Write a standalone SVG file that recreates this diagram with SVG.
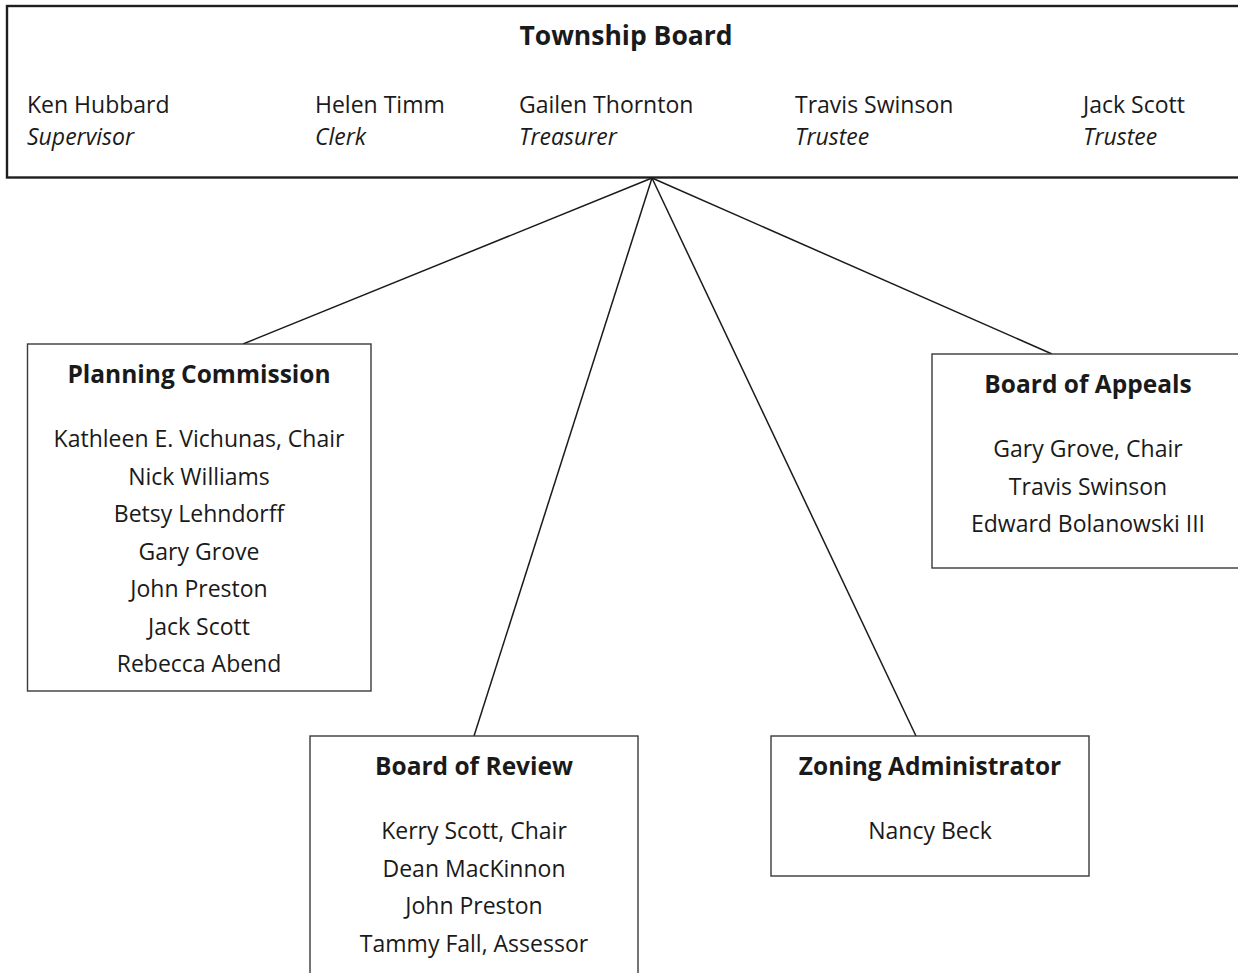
<svg xmlns="http://www.w3.org/2000/svg" width="1238" height="973" viewBox="0 0 1238 973">
<style>
  .box { fill: #ffffff; stroke: #3a3a3a; stroke-width: 1.4; }
  .top { fill: #ffffff; stroke: #1e1e1e; stroke-width: 2.4; }
  text { font-family: "Open Sans", "Noto Sans", "Liberation Sans", sans-serif; fill: #1a1a1a; }
  .t { font-size: 24.5px; font-weight: bold; text-anchor: middle; }
  .tb { font-size: 26.5px; font-weight: bold; text-anchor: middle; }
  .b { font-size: 23px; }
  .c { font-size: 23px; text-anchor: middle; }
  .i { font-size: 23px; font-style: italic; }
  .conn line { stroke: #1a1a1a; stroke-width: 1.5; }
</style>
<rect width="1238" height="973" fill="#ffffff"/>
<g id="connectors" class="conn">
  <line x1="652" y1="178" x2="243" y2="344"/>
  <line x1="652" y1="178" x2="474" y2="736"/>
  <line x1="652" y1="178" x2="916" y2="736"/>
  <line x1="652" y1="178" x2="1052" y2="354"/>
</g>
<g id="township-board">
  <rect class="top" x="7" y="6" width="1245" height="171.5"/>
  <text class="tb" x="626" y="45">Township Board</text>
  <text class="b" x="27" y="113">Ken Hubbard</text>
  <text class="i" x="27" y="145">Supervisor</text>
  <text class="b" x="315" y="113">Helen Timm</text>
  <text class="i" x="315" y="145">Clerk</text>
  <text class="b" x="519" y="113">Gailen Thornton</text>
  <text class="i" x="519" y="145">Treasurer</text>
  <text class="b" x="795" y="113">Travis Swinson</text>
  <text class="i" x="795" y="145">Trustee</text>
  <text class="b" x="1083" y="113">Jack Scott</text>
  <text class="i" x="1083" y="145">Trustee</text>
</g>
<g id="planning-commission">
  <rect class="box" x="27.5" y="344" width="343.5" height="347"/>
  <text class="t" x="199" y="383">Planning Commission</text>
  <text class="c" x="199" y="447">Kathleen E. Vichunas, Chair</text>
  <text class="c" x="199" y="485">Nick Williams</text>
  <text class="c" x="199" y="522">Betsy Lehndorff</text>
  <text class="c" x="199" y="560">Gary Grove</text>
  <text class="c" x="199" y="597">John Preston</text>
  <text class="c" x="199" y="635">Jack Scott</text>
  <text class="c" x="199" y="672">Rebecca Abend</text>
</g>
<g id="board-of-appeals">
  <rect class="box" x="932" y="354" width="320" height="214"/>
  <text class="t" x="1088" y="393">Board of Appeals</text>
  <text class="c" x="1088" y="457">Gary Grove, Chair</text>
  <text class="c" x="1088" y="495">Travis Swinson</text>
  <text class="c" x="1088" y="532">Edward Bolanowski III</text>
</g>
<g id="board-of-review">
  <rect class="box" x="310" y="736" width="328" height="260"/>
  <text class="t" x="474" y="775">Board of Review</text>
  <text class="c" x="474" y="839">Kerry Scott, Chair</text>
  <text class="c" x="474" y="877">Dean MacKinnon</text>
  <text class="c" x="474" y="914">John Preston</text>
  <text class="c" x="474" y="952">Tammy Fall, Assessor</text>
</g>
<g id="zoning-administrator">
  <rect class="box" x="771" y="736" width="318" height="140"/>
  <text class="t" x="930" y="775">Zoning Administrator</text>
  <text class="c" x="930" y="839">Nancy Beck</text>
</g>
</svg>
